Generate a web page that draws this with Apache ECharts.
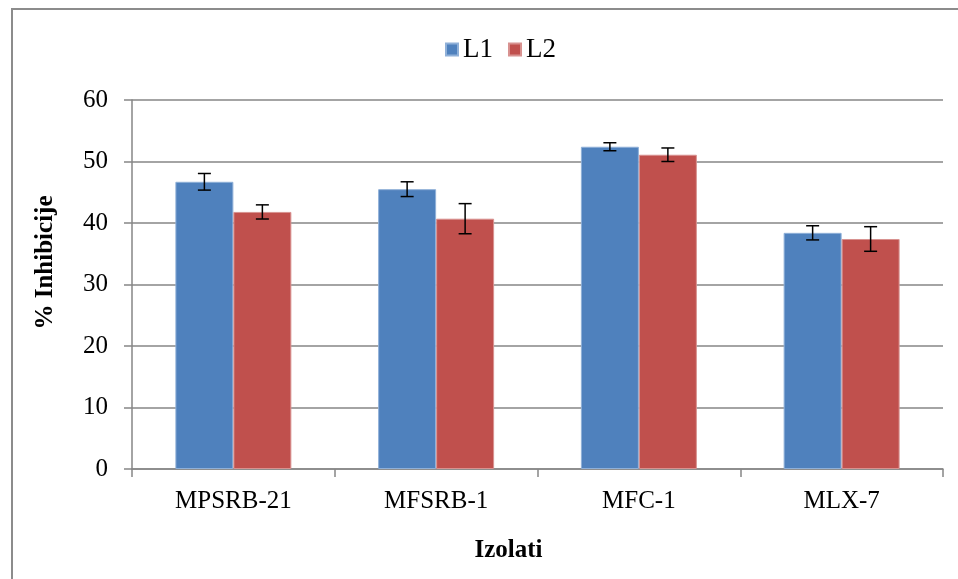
<!DOCTYPE html>
<html>
<head>
<meta charset="utf-8">
<script src="https://cdn.jsdelivr.net/npm/echarts@6/dist/echarts.min.js"></script>
<style>
html,body{margin:0;padding:0;background:#fff;}
#chart{width:958px;height:579px;}
</style>
</head>
<body>
<div id="chart"></div>
<script>
const categories = ['MPSRB-21', 'MFSRB-1', 'MFC-1', 'MLX-7'];
const l1Values = [46.7, 45.5, 52.4, 38.4];
const l1Errors = [1.35, 1.2, 0.65, 1.15];
const l2Values = [41.8, 40.7, 51.1, 37.4];
const l2Errors = [1.15, 2.45, 1.1, 2.0];
const yTicks = [0, 10, 20, 30, 40, 50, 60];

const FONT = '"Liberation Serif", "Times New Roman", serif';
const CAT_GAP = 0.428;

function errorSeries(values, errors, side) {
  return {
    type: 'custom',
    silent: true,
    z: 10,
    data: values.map((v, i) => [i, v, errors[i]]),
    renderItem: function (params, api) {
      const idx = api.value(0);
      const v = api.value(1);
      const e = api.value(2);
      const band = api.size([1, 0])[0];
      const barW = band * (1 - CAT_GAP) / 2;
      const cx = api.coord([idx, v])[0] + side * barW / 2;
      const yTop = api.coord([idx, v + e])[1];
      const yBot = api.coord([idx, v - e])[1];
      const cap = 6.5;
      const style = { stroke: '#000', lineWidth: 1.5 };
      return {
        type: 'group',
        children: [
          { type: 'line', shape: { x1: cx, y1: yTop, x2: cx, y2: yBot }, style: style },
          { type: 'line', shape: { x1: cx - cap, y1: yTop, x2: cx + cap, y2: yTop }, style: style },
          { type: 'line', shape: { x1: cx - cap, y1: yBot, x2: cx + cap, y2: yBot }, style: style }
        ]
      };
    }
  };
}

const chart = echarts.init(document.getElementById('chart'), null, { renderer: 'canvas' });
chart.setOption({
  animation: false,
  backgroundColor: '#fff',
  graphic: [{
    type: 'rect',
    shape: { x: 12, y: 9, width: 960, height: 590 },
    style: { fill: 'none', stroke: '#8c8c8c', lineWidth: 2 },
    silent: true,
    z: -10
  }],
  legend: {
    data: ['L1', 'L2'],
    top: 31,
    left: 440,
    itemWidth: 12,
    itemHeight: 12,
    itemGap: 15,
    icon: 'rect',
    textStyle: { fontFamily: FONT, fontSize: 27, color: '#000' }
  },
  grid: { left: 132, right: 15, top: 100, bottom: 110, containLabel: false },
  xAxis: {
    type: 'category',
    data: categories,
    name: 'Izolati',
    nameLocation: 'middle',
    nameGap: 69,
    nameTextStyle: { fontFamily: FONT, fontSize: 25, fontWeight: 'bold', color: '#000', padding: [0, 58, 0, 0] },
    axisLine: { lineStyle: { color: '#868686', width: 1.5 } },
    axisTick: { show: true, length: 8, alignWithLabel: false, lineStyle: { color: '#868686', width: 1.5 } },
    axisLabel: { fontFamily: FONT, fontSize: 25, color: '#000', margin: 20 },
    splitLine: { show: false }
  },
  yAxis: {
    type: 'value',
    min: 0,
    max: 60,
    interval: 10,
    name: '% Inhibicije',
    nameLocation: 'middle',
    nameGap: 74,
    nameRotate: 90,
    nameTextStyle: { fontFamily: FONT, fontSize: 25, fontWeight: 'bold', color: '#000', padding: [0, 0, 0, 44] },
    axisLine: { show: true, lineStyle: { color: '#868686', width: 1.5 } },
    axisTick: { show: true, length: 8, lineStyle: { color: '#868686', width: 1.5 } },
    axisLabel: {
      fontFamily: FONT, fontSize: 25, color: '#000', margin: 24,
      formatter: function (v) { return yTicks.indexOf(v) >= 0 ? String(v) : ''; }
    },
    splitLine: { show: true, lineStyle: { color: '#868686', width: 1.5 } }
  },
  series: [
    {
      name: 'L1', type: 'bar', data: l1Values,
      barGap: '0%', barCategoryGap: (CAT_GAP * 100) + '%',
      itemStyle: { color: '#4F81BD', borderColor: '#8fb0d8', borderWidth: 1 }
    },
    {
      name: 'L2', type: 'bar', data: l2Values,
      barGap: '0%', barCategoryGap: (CAT_GAP * 100) + '%',
      itemStyle: { color: '#C0504D', borderColor: '#d89290', borderWidth: 1 }
    },
    errorSeries(l1Values, l1Errors, -1),
    errorSeries(l2Values, l2Errors, 1)
  ]
});
</script>
</body>
</html>
